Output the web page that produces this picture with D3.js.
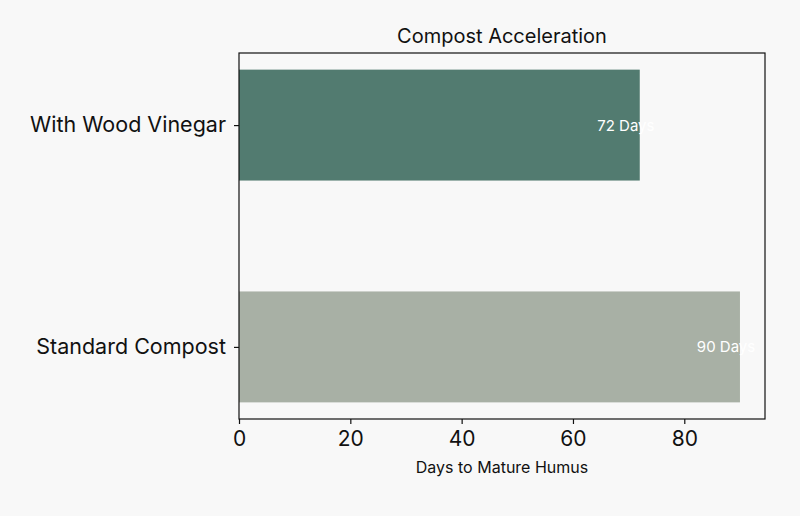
<!DOCTYPE html>
<html>
<head>
<meta charset="utf-8">
<script src="https://cdn.jsdelivr.net/npm/d3@7"></script>
<style>
  body { margin: 0; background: #f8f8f8; }
  svg { display: block; }
</style>
</head>
<body>
<svg id="chart" width="800" height="516"></svg>
<script>
// data
var categories = ['With Wood Vinegar', 'Standard Compost'];
var days = [72, 90];
var barColors = ['#527b70', '#a8b0a5'];
var xTicks = [0, 20, 40, 60, 80];

var fontFamily = 'Inter, "Open Sans", sans-serif';
var svg = d3.select('#chart');
var margin = { left: 239, right: 35, top: 53, bottom: 97 };
var width = 800 - margin.left - margin.right;
var height = 516 - margin.top - margin.bottom;

svg.append('rect').attr('width', 800).attr('height', 516).attr('fill', '#f8f8f8');

var g = svg.append('g')
    .attr('transform', 'translate(' + margin.left + ',' + margin.top + ')')
    .attr('font-family', fontFamily);

// x: matplotlib style 5% margin on the right
var x = d3.scaleLinear().domain([0, d3.max(days) * 1.05]).range([0, width]);
// y: category positions 0,1 with bar height 0.5 and 5% margins
var y = d3.scaleLinear().domain([-0.325, 1.325]).range([0, height]);
var barH = 0.5;

// bars
g.selectAll('rect.bar')
    .data(days)
    .enter()
    .append('rect')
    .attr('class', 'bar')
    .attr('x', x(0))
    .attr('y', function (d, i) { return y(i - barH / 2); })
    .attr('width', function (d) { return x(d) - x(0); })
    .attr('height', y(barH) - y(0))
    .attr('fill', function (d, i) { return barColors[i]; });

// value labels
g.selectAll('text.val')
    .data(days)
    .enter()
    .append('text')
    .attr('class', 'val')
    .attr('x', function (d) { return x(d - 2.5); })
    .attr('y', function (d, i) { return y(i); })
    .attr('text-anchor', 'middle')
    .attr('dominant-baseline', 'central')
    .attr('fill', '#ffffff')
    .attr('font-size', 15)
    .text(function (d) { return d + ' Days'; });

// x axis
var xAxis = g.append('g')
    .attr('transform', 'translate(0,' + height + ')')
    .call(d3.axisBottom(x).tickValues(xTicks).tickSize(5).tickPadding(7));
xAxis.select('.domain').remove();
xAxis.selectAll('line').attr('stroke', '#111').attr('stroke-width', 1.2);
xAxis.selectAll('text').attr('font-size', 21).attr('fill', '#111').attr('font-family', fontFamily);

// y axis
var yAxis = g.append('g')
    .call(d3.axisLeft(y).tickValues([0, 1]).tickFormat(function (d) { return categories[d]; })
        .tickSize(5).tickPadding(8));
yAxis.select('.domain').remove();
yAxis.selectAll('line').attr('stroke', '#111').attr('stroke-width', 1.2);
yAxis.selectAll('text').attr('font-size', 21.5).attr('fill', '#111').attr('font-family', fontFamily);

// frame
g.append('rect')
    .attr('width', width)
    .attr('height', height)
    .attr('fill', 'none')
    .attr('stroke', '#111')
    .attr('stroke-width', 1.2);

// title
g.append('text')
    .attr('x', width / 2)
    .attr('y', -10)
    .attr('text-anchor', 'middle')
    .attr('font-size', 20)
    .attr('fill', '#111')
    .text('Compost Acceleration');

// x label
g.append('text')
    .attr('x', width / 2)
    .attr('y', height + 54)
    .attr('text-anchor', 'middle')
    .attr('font-size', 16)
    .attr('fill', '#111')
    .text('Days to Mature Humus');
</script>
</body>
</html>
